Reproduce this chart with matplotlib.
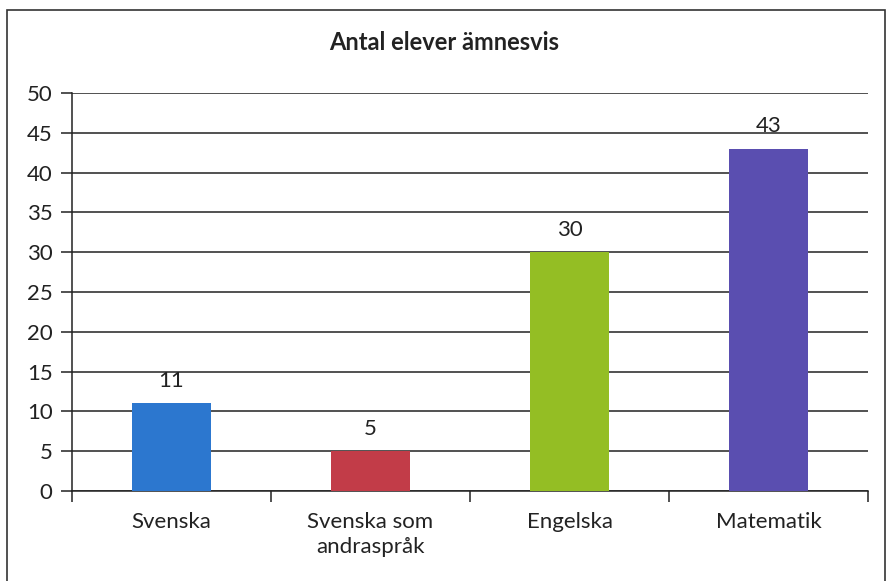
import matplotlib
matplotlib.use("Agg")
import matplotlib.pyplot as plt
from matplotlib.patches import Rectangle

categories = ["Svenska", "Svenska som\nandraspråk", "Engelska", "Matematik"]
values = [11, 5, 30, 43]
colors = ["#2C77CF", "#C23C48", "#94BE24", "#5A4EB0"]
yticks = [0, 5, 10, 15, 20, 25, 30, 35, 40, 45, 50]
title = "Antal elever ämnesvis"

plt.rcParams['font.family'] = ['Lato', 'DejaVu Sans']

fig = plt.figure(figsize=(8.88, 5.81), dpi=100)
ax = fig.add_axes([72/888, 1-491/581, (868-72)/888, (491-93)/581])

x = list(range(len(categories)))
bars = ax.bar(x, values, width=0.4, color=colors, zorder=3)
for xi, v in zip(x, values):
    ax.annotate(str(v), (xi, v), xytext=(0, 9), textcoords="offset points",
                ha="center", va="bottom", fontsize=16, color="#222222")

ax.set_xlim(-0.5, len(categories) - 0.5)
ax.set_ylim(0, 50)
ax.set_yticks(yticks)
ax.set_yticklabels([str(t) for t in yticks], fontsize=16, color="#222222")
ax.yaxis.grid(True, color="#222222", linewidth=1.1, zorder=0)
ax.set_axisbelow(True)

ax.set_xticks(x)
ax.set_xticklabels(categories, fontsize=16, color="#222222", linespacing=1.35)
ax.tick_params(axis="x", length=0, pad=15)
ax.set_xticks([i - 0.5 for i in range(len(categories) + 1)], minor=True)
ax.tick_params(axis="x", which="minor", length=8, width=1.1, color="#222222")
ax.tick_params(axis="y", length=8, width=1.1, color="#222222", pad=6)

for s in ["top", "right"]:
    ax.spines[s].set_visible(False)
for s in ["left", "bottom"]:
    ax.spines[s].set_color("#222222")
    ax.spines[s].set_linewidth(1.1)

fig.text(0.5, 1 - 43/581, title, ha="center", va="center", fontsize=17,
         fontweight="bold", color="#222222")

fig.patches.append(Rectangle((7/888, -0.05), (885-7)/888, 1.05 - 10/581,
                             transform=fig.transFigure, fill=False,
                             edgecolor="#333333", linewidth=1.2))

fig.savefig("out.png", dpi=100)
